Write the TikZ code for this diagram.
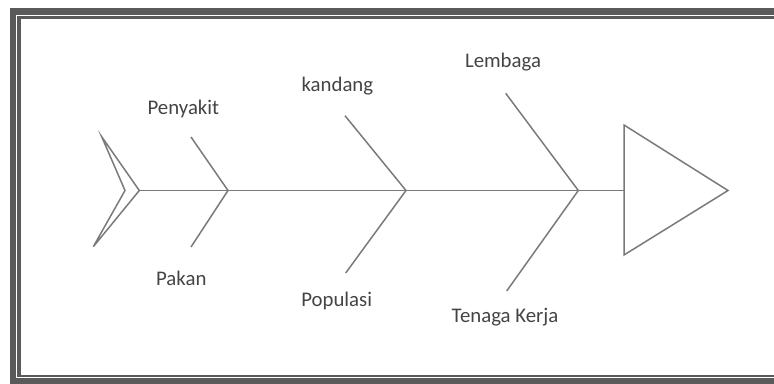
\documentclass[tikz,border=0pt]{standalone}
\usepackage{fontspec}
\setmainfont{Carlito}
\definecolor{framegray}{HTML}{5A5A5A}
\definecolor{bonegray}{HTML}{7A7A7A}
\definecolor{labelgray}{HTML}{444444}
\begin{document}
\begin{tikzpicture}[x=1pt,y=-1pt,
  bone/.style={draw=bonegray,line width=1.5pt,line join=miter},
  cause/.style={anchor=base,text=labelgray,inner sep=0pt,font=\fontsize{20.8}{24}\selectfont}]
\useasboundingbox (0,0) rectangle (774,383);
% double frame
\draw[framegray,line width=10.7pt] (15.35,13.65) rectangle (779.5,380.3);
\draw[white,line width=1.2pt] (16.2,15.3) rectangle (775.5,377.5);
% spine ends
\coordinate (tailTop) at (101.7,136.7);
\coordinate (tailOut) at (139.3,190.5);
\coordinate (tailBot) at (93.3,246.7);
\coordinate (tailIn) at (125,190.5);
\coordinate (headTop) at (624,125);
\coordinate (headTip) at (728,190.5);
\coordinate (headBot) at (624,255);
\coordinate (headIn) at (624,190.5);
% junctions on the spine
\coordinate (j1) at (228,190.5);
\coordinate (j2) at (406,190.5);
\coordinate (j3) at (578.3,190.5);
% bone ends
\coordinate (b1t) at (191,137);
\coordinate (b1b) at (191,247);
\coordinate (b2t) at (345,115.7);
\coordinate (b2b) at (345.7,273);
\coordinate (b3t) at (505.7,93.3);
\coordinate (b3b) at (506.7,291);
% tail and head
\draw[bone] (tailTop) -- (tailOut) -- (tailBot) -- (tailIn) -- cycle;
\draw[bone] (headTop) -- (headTip) -- (headBot) -- cycle;
% spine
\draw[bone] (tailOut) -- (headIn);
% bones
\draw[bone] (b1t) -- (j1) -- (b1b);
\draw[bone] (b2t) -- (j2) -- (b2b);
\draw[bone] (b3t) -- (j3) -- (b3b);
% labels
\node[cause] (penyakit) at (183.4,114.3) {Penyakit};
\node[cause] (pakan) at (181.3,285) {Pakan};
\node[cause] (kandang) at (337.4,91.7) {kandang};
\node[cause] (populasi) at (336.7,306) {Populasi};
\node[cause] (lembaga) at (503,67.3) {Lembaga};
\node[cause] (tenaga) at (505,322.7) {Tenaga Kerja};
\end{tikzpicture}
\end{document}
